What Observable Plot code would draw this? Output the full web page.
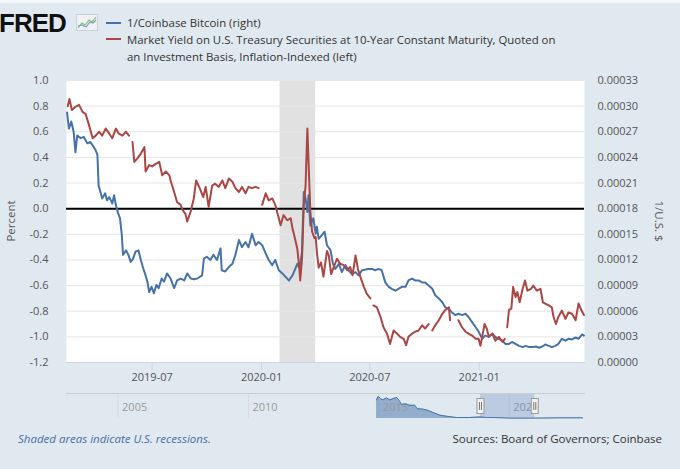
<!DOCTYPE html>
<html><head><meta charset="utf-8">
<script src="https://cdn.jsdelivr.net/npm/d3@7"></script>
<script src="https://cdn.jsdelivr.net/npm/@observablehq/plot@0.6"></script>
<style>
html,body{margin:0;padding:0;background:#e1e9f0;}
#wrap{position:relative;width:680px;height:469px;background:#e1e9f0;overflow:hidden;font-family:"Open Sans",sans-serif;}
.abs{position:absolute;white-space:nowrap;line-height:16px;}
#main,#nav{position:absolute;left:0;}
</style></head><body>
<div id="wrap">
  <div class="abs" style="left:0;top:0;width:680px;height:3px;background:#f4f7fa;"></div>
  <div class="abs" style="left:-1px;top:10px;font:bold 26px 'Liberation Sans',Arial,sans-serif;line-height:26px;color:#111;letter-spacing:-1px;">FRED</div>
  <svg class="abs" style="left:76px;top:14px;" width="22" height="17" aria-label="FRED logo icon">
    <rect x="0.5" y="0.5" width="21" height="16" fill="#eef2f5" stroke="#c9d2da"></rect>
    <polyline points="2,14 6,9 9,11 13,6 16,8 20,3" fill="none" stroke="#8cbf6a" stroke-width="1.2"></polyline>
    <polyline points="2,12 6,11 10,13 14,8 17,9 20,6" fill="none" stroke="#7c9cc8" stroke-width="1.2"></polyline>
  </svg>
  <div class="abs" style="left:106px;top:22px;width:15px;height:2px;background:#4572a7;"></div>
  <div class="abs" style="left:106px;top:38px;width:15px;height:2px;background:#aa4643;"></div>
  <div class="abs" style="left:127px;top:15px;font-size:11.4px;color:#333;">1/Coinbase Bitcoin (right)</div>
  <div class="abs" style="left:127px;top:32px;font-size:11.4px;color:#333;">Market Yield on U.S. Treasury Securities at 10-Year Constant Maturity, Quoted on</div>
  <div class="abs" style="left:127px;top:48.5px;font-size:11.4px;color:#333;">an Investment Basis, Inflation-Indexed (left)</div>
  <div id="main" style="top:63px;"></div>
  <div class="abs" style="left:11px;top:221px;font-size:11.5px;color:#555;line-height:1;transform:translate(-50%,-50%) rotate(-90deg);">Percent</div>
  <div class="abs" style="left:659px;top:221px;font-size:11.5px;color:#555;line-height:1;transform:translate(-50%,-50%) rotate(90deg);">1/U.S. $</div>
  <div id="nav" style="top:386px;"></div>
  <div class="abs" style="left:18px;top:431px;font-size:11.5px;color:#4a6ea8;font-style:italic;">Shaded areas indicate U.S. recessions.</div>
  <div class="abs" style="right:18px;top:431px;font-size:11.5px;color:#333;">Sources: Board of Governors; Coinbase</div>
</div>
<script>
// ---------- data ----------
const leftDomain = [-1.2, 1.0];
const rightDomain = [0, 0.00033];
const leftTicks = [-1.2, -1.0, -0.8, -0.6, -0.4, -0.2, 0.0, 0.2, 0.4, 0.6, 0.8, 1.0];
const rightTicks = [0, 0.00003, 0.00006, 0.00009, 0.00012, 0.00015, 0.00018, 0.00021, 0.00024, 0.00027, 0.00030, 0.00033];
const xDomain = ["2019-02-07", "2021-06-27"];
const xTicks = ["2019-07-01", "2020-01-01", "2020-07-01", "2021-01-01"];
const recessionStart = ["2020-02-01"];
const recessionEnd = ["2020-04-01"];

const redDates = ["2019-02-09","2019-02-12","2019-02-16","2019-02-22","2019-02-28","2019-03-06","2019-03-11","2019-03-17","2019-03-23","2019-03-28","2019-04-03","2019-04-08","2019-04-14","2019-04-20","2019-04-25","2019-05-01","2019-05-06","2019-05-12","2019-05-18","2019-05-23","2019-05-26","2019-05-29","2019-06-01","2019-06-06","2019-06-12","2019-06-18","2019-06-20","2019-06-26","2019-07-01","2019-07-07","2019-07-13","2019-07-18","2019-07-24","2019-07-30","2019-08-01","2019-08-07","2019-08-12","2019-08-18","2019-08-21","2019-08-26","2019-08-29","2019-09-04","2019-09-09","2019-09-13","2019-09-19","2019-09-25","2019-09-29","2019-10-04","2019-10-10","2019-10-15","2019-10-21","2019-10-27","2019-11-01","2019-11-07","2019-11-13","2019-11-18","2019-11-24","2019-11-29","2019-12-05","2019-12-10","2019-12-16","2019-12-22","2019-12-27","2019-12-30","2020-01-02","2020-01-08","2020-01-13","2020-01-19","2020-01-24","2020-01-30","2020-02-02","2020-02-07","2020-02-13","2020-02-19","2020-02-22","2020-02-25","2020-03-01","2020-03-04","2020-03-06","2020-03-09","2020-03-12","2020-03-15","2020-03-18","2020-03-20","2020-03-23","2020-03-26","2020-03-30","2020-04-01","2020-04-03","2020-04-06","2020-04-10","2020-04-14","2020-04-20","2020-04-23","2020-04-27","2020-05-01","2020-05-07","2020-05-12","2020-05-18","2020-05-24","2020-05-29","2020-06-02","2020-06-07","2020-06-11","2020-06-15","2020-06-21","2020-06-26","2020-07-02","2020-07-04","2020-07-07","2020-07-13","2020-07-19","2020-07-24","2020-07-30","2020-08-04","2020-08-10","2020-08-16","2020-08-21","2020-08-27","2020-08-31","2020-09-04","2020-09-10","2020-09-15","2020-09-21","2020-09-27","2020-10-02","2020-10-08","2020-10-11","2020-10-14","2020-10-19","2020-10-25","2020-10-31","2020-11-05","2020-11-11","2020-11-13","2020-11-20","2020-11-27","2020-12-03","2020-12-09","2020-12-14","2020-12-20","2020-12-26","2020-12-31","2021-01-03","2021-01-07","2021-01-10","2021-01-14","2021-01-17","2021-01-23","2021-01-28","2021-02-03","2021-02-09","2021-02-13","2021-02-15","2021-02-17","2021-02-20","2021-02-24","2021-02-27","2021-03-03","2021-03-06","2021-03-10","2021-03-15","2021-03-19","2021-03-23","2021-03-29","2021-04-02","2021-04-08","2021-04-14","2021-04-18","2021-04-22","2021-04-28","2021-05-03","2021-05-06","2021-05-10","2021-05-14","2021-05-20","2021-05-26","2021-05-31","2021-06-06","2021-06-12","2021-06-17","2021-06-22","2021-06-26"];
const redValues = [0.80,0.855,0.77,0.795,0.81,0.755,0.74,0.65,0.55,0.57,0.60,0.57,0.625,0.585,0.55,0.625,0.585,0.57,0.60,0.57,null,0.52,0.365,0.39,0.43,0.48,0.29,0.34,0.33,0.35,0.365,0.26,0.29,0.26,0.22,0.13,0.05,0.03,-0.01,-0.04,-0.10,-0.02,0.08,0.22,0.16,0.09,0.17,0.015,0.18,0.195,0.17,0.22,0.16,0.235,0.21,0.16,0.13,0.17,0.12,0.17,0.16,0.17,0.16,null,0.03,0.12,0.065,0.08,0.03,-0.075,-0.13,-0.05,-0.09,-0.075,-0.155,-0.21,-0.31,-0.44,-0.56,-0.39,0.03,0.18,0.625,0.365,-0.02,-0.18,-0.23,-0.22,-0.34,-0.46,-0.42,-0.53,-0.33,-0.365,-0.51,-0.46,-0.39,-0.43,-0.44,-0.48,-0.455,-0.52,-0.365,-0.47,-0.53,-0.61,-0.665,-0.70,null,-0.755,-0.77,-0.845,-0.925,-0.975,-1.055,-0.95,-0.975,-1.00,-1.015,-1.065,-1.00,-0.975,-0.96,-0.95,-0.91,-0.935,-0.90,null,-0.95,-0.91,-0.87,-0.82,-0.79,-0.77,-0.87,null,-0.87,-0.925,-0.96,-0.975,-0.99,-1.015,-1.015,-1.07,-0.975,-0.90,-0.94,-1.00,-0.975,-1.03,-1.00,-1.04,-1.015,null,-0.925,-0.79,-0.78,-0.61,-0.69,-0.65,-0.73,-0.625,-0.56,-0.64,-0.625,-0.60,-0.64,-0.625,-0.73,-0.74,-0.755,-0.77,-0.845,-0.90,-0.845,-0.795,-0.86,-0.81,-0.82,-0.87,-0.74,-0.795,-0.83];

const blueDates = ["2019-02-08","2019-02-11","2019-02-15","2019-02-19","2019-02-22","2019-02-25","2019-03-03","2019-03-08","2019-03-14","2019-03-19","2019-03-25","2019-03-28","2019-03-31","2019-04-02","2019-04-05","2019-04-08","2019-04-13","2019-04-16","2019-04-20","2019-04-25","2019-04-28","2019-05-01","2019-05-04","2019-05-08","2019-05-11","2019-05-13","2019-05-18","2019-05-22","2019-05-26","2019-05-30","2019-06-03","2019-06-08","2019-06-12","2019-06-16","2019-06-20","2019-06-23","2019-06-26","2019-06-30","2019-07-04","2019-07-08","2019-07-12","2019-07-17","2019-07-21","2019-07-26","2019-08-01","2019-08-07","2019-08-12","2019-08-18","2019-08-24","2019-08-29","2019-09-04","2019-09-09","2019-09-15","2019-09-23","2019-09-26","2019-10-01","2019-10-07","2019-10-12","2019-10-18","2019-10-24","2019-10-26","2019-11-01","2019-11-07","2019-11-13","2019-11-18","2019-11-24","2019-11-29","2019-12-05","2019-12-10","2019-12-16","2019-12-22","2019-12-27","2020-01-02","2020-01-08","2020-01-13","2020-01-19","2020-01-24","2020-01-30","2020-02-05","2020-02-10","2020-02-16","2020-02-22","2020-02-27","2020-03-01","2020-03-05","2020-03-09","2020-03-12","2020-03-15","2020-03-18","2020-03-20","2020-03-23","2020-03-28","2020-04-01","2020-04-03","2020-04-06","2020-04-09","2020-04-16","2020-04-20","2020-04-26","2020-04-30","2020-05-04","2020-05-10","2020-05-15","2020-05-21","2020-05-26","2020-06-01","2020-06-07","2020-06-12","2020-06-18","2020-06-24","2020-06-29","2020-07-05","2020-07-10","2020-07-16","2020-07-21","2020-07-27","2020-08-02","2020-08-07","2020-08-13","2020-08-18","2020-08-24","2020-08-30","2020-09-04","2020-09-10","2020-09-15","2020-09-21","2020-09-27","2020-10-02","2020-10-08","2020-10-14","2020-10-19","2020-10-25","2020-10-31","2020-11-05","2020-11-11","2020-11-16","2020-11-22","2020-11-27","2020-12-03","2020-12-09","2020-12-14","2020-12-20","2020-12-26","2020-12-31","2021-01-06","2021-01-11","2021-01-17","2021-01-23","2021-01-28","2021-02-03","2021-02-09","2021-02-14","2021-02-20","2021-02-25","2021-03-03","2021-03-09","2021-03-15","2021-03-20","2021-03-26","2021-04-01","2021-04-06","2021-04-12","2021-04-17","2021-04-22","2021-04-28","2021-05-03","2021-05-09","2021-05-14","2021-05-20","2021-05-26","2021-05-31","2021-06-06","2021-06-12","2021-06-17","2021-06-23","2021-06-26"];
const blueValues = [0.0002925,0.00027375,0.000282,0.00027,0.000246,0.0002655,0.0002625,0.000264,0.0002565,0.000258,0.000252,0.00024825,0.000243,0.000207,0.0001995,0.000192,0.000198,0.00018975,0.0001935,0.000186,0.00019575,0.0001845,0.00017625,0.00016875,0.00014925,0.000126,0.00013125,0.000126,0.00011775,0.0001215,0.00012975,0.00013125,0.00012,0.00011025,0.000102,0.0000945,0.0000825,0.0000885,0.000081,0.00009075,0.000087,0.00009825,0.0000945,0.00010425,0.00009825,0.000087,0.000096,0.00009825,0.000096,0.00010425,0.00009825,0.0000975,0.00009825,0.000102,0.0001215,0.00012375,0.00012,0.000126,0.00012,0.0001335,0.000108,0.0001065,0.00011175,0.0001155,0.000126,0.00014325,0.000135,0.000141,0.000135,0.00015075,0.00013725,0.000141,0.00013725,0.0001275,0.00012,0.000114,0.00012,0.000108,0.00010425,0.0001005,0.000096,0.000102,0.00011025,0.0001155,0.00011025,0.00012975,0.0001995,0.000192,0.00017625,0.00019575,0.0001605,0.00016875,0.00015075,0.000159,0.00014475,0.000147,0.000153,0.00013725,0.00013125,0.0001155,0.0001095,0.0001155,0.00010575,0.000114,0.000108,0.0001035,0.00010575,0.000102,0.000108,0.00010875,0.0001095,0.0001095,0.000108,0.0001095,0.000108,0.00009375,0.0000885,0.00008625,0.000084,0.00008625,0.0000885,0.0000885,0.000096,0.00009825,0.000096,0.000096,0.00009375,0.00009375,0.00009,0.00008625,0.00007875,0.000075,0.0000705,0.0000645,0.000063,0.0000585,0.0000555,0.000057,0.0000555,0.000057,0.00005325,0.00004725,0.00004125,0.000036,0.00002775,0.0000315,0.00003,0.00003375,0.00003,0.00002775,0.0000255,0.00002175,0.00002175,0.000024,0.00002175,0.0000195,0.000018,0.0000195,0.000018,0.000018,0.00001875,0.00001725,0.00001875,0.000021,0.0000195,0.000018,0.0000195,0.00002175,0.00002775,0.0000255,0.00002775,0.000027,0.00002925,0.00002775,0.000033,0.0000315];

// navigator (full history of 1/Coinbase Bitcoin, 1/U.S. $)
const navDomain = ["2003-01-10", "2022-11-20"];
const navYears = [2005, 2010, 2015, 2020];
const navSelection = ["2018-11-24", "2020-12-24"];
const navYMax = 0.0051;
const navDates = ["2014-11-29","2014-12-22","2015-01-25","2015-03-02","2015-04-18","2015-06-04","2015-07-20","2015-09-06","2015-10-12","2015-11-14","2016-01-23","2016-03-10","2016-05-19","2016-06-21","2016-09-13","2016-11-22","2017-02-01","2017-05-06","2017-08-07","2017-12-24","2018-06-28","2018-11-15","2019-02-17","2019-05-20","2020-01-10","2020-12-01","2021-12-10","2022-10-24"];
const navValues = [0.0038,0.0045,0.00405,0.0038,0.0042,0.0038,0.00405,0.0043,0.0037,0.0029,0.0029,0.0027,0.0027,0.002,0.0019,0.00165,0.0012,0.00068,0.00045,0.0002,0.0002,0.00032,0.0002,0.0002,0.00007,0.00007,0.00013,0.00013];

// ---------- helpers ----------
const parse = d3.utcParse("%Y-%m-%d");
const toLeft = r => leftDomain[0] + (r - rightDomain[0]) / (rightDomain[1] - rightDomain[0]) * (leftDomain[1] - leftDomain[0]);
const fromLeft = v => rightDomain[0] + (v - leftDomain[0]) / (leftDomain[1] - leftDomain[0]) * (rightDomain[1] - rightDomain[0]);

const red = redDates.map((d, i) => ({date: parse(d), value: redValues[i]}));
const blue = blueDates.map((d, i) => ({date: parse(d), value: blueValues[i]}));
const recessions = recessionStart.map((d, i) => ({start: parse(d), end: parse(recessionEnd[i])}));
const nav = navDates.map((d, i) => ({date: parse(d), value: navValues[i]}));
const navYearDates = navYears.map(y => new Date(Date.UTC(y, 0, 1)));
const sel = [{start: parse(navSelection[0]), end: parse(navSelection[1])}];
const selEdges = navSelection.map(parse);

const font = '"Open Sans", sans-serif';

const main = Plot.plot({
  width: 680, height: 327,
  marginTop: 17, marginBottom: 28, marginLeft: 66, marginRight: 96,
  style: {background: "transparent", fontFamily: font, fontSize: "11px", color: "#555", overflow: "visible"},
  x: {type: "utc", domain: xDomain.map(parse)},
  y: {domain: leftDomain},
  marks: [
    Plot.frame({fill: "#ffffff", stroke: "none"}),
    Plot.rect(recessions, {x1: "start", x2: "end", y1: leftDomain[0], y2: leftDomain[1], fill: "#e1e1e1"}),
    Plot.gridY(leftTicks, {stroke: "#e6e6e6", strokeOpacity: 1}),
    Plot.ruleY([0], {stroke: "#000", strokeWidth: 2}),
    Plot.line(blue, {x: "date", y: d => toLeft(d.value), stroke: "#4572a7", strokeWidth: 2}),
    Plot.line(red, {x: "date", y: "value", stroke: "#aa4643", strokeWidth: 2}),
    Plot.frame({anchor: "bottom", stroke: "#ccd6eb"}),
    Plot.axisY(leftTicks, {anchor: "left", tickSize: 0, tickPadding: 18, tickFormat: d => d.toFixed(1), label: null, fill: "#555"}),
    Plot.axisY(rightTicks.map(toLeft), {anchor: "right", tickSize: 0, tickPadding: 13, tickFormat: d => fromLeft(d).toFixed(5), label: null, fill: "#555"}),
    Plot.axisX(xTicks.map(parse), {anchor: "bottom", tickSize: 8, tickPadding: 3, tickFormat: d3.utcFormat("%Y-%m"), stroke: "#ccd6eb", fill: "#555", label: null})
  ]
});
document.getElementById("main").appendChild(main);

const navPlot = Plot.plot({
  width: 680, height: 40,
  marginTop: 7, marginBottom: 8, marginLeft: 66, marginRight: 96,
  style: {background: "transparent", fontFamily: font, fontSize: "11px", color: "#999", overflow: "visible"},
  x: {type: "utc", domain: navDomain.map(parse), axis: null},
  y: {domain: [0, navYMax], axis: null},
  marks: [
    Plot.ruleX(navYearDates, {stroke: "#d3dce6"}),
    Plot.areaY(nav, {x: "date", y: "value", fill: "#4572a7", fillOpacity: 0.5, curve: "linear"}),
    Plot.lineY(nav, {x: "date", y: "value", stroke: "#4572a7", strokeWidth: 1}),
    Plot.text(navYearDates, {x: d => d, text: d => String(d.getUTCFullYear()), frameAnchor: "bottom", dy: -8, dx: 4, textAnchor: "start", fill: "#999", fontSize: 11}),
    Plot.rect(sel, {x1: "start", x2: "end", y1: 0, y2: navYMax, fill: "#6685c2", fillOpacity: 0.3}),
    Plot.frame({anchor: "top", stroke: "#cccccc"}),
    Plot.ruleX(selEdges, {stroke: "#999", strokeWidth: 8, insetTop: 5, insetBottom: 4}),
    Plot.ruleX(selEdges, {stroke: "#f2f2f2", strokeWidth: 6, insetTop: 6, insetBottom: 5}),
    Plot.ruleX(selEdges, {stroke: "#777", strokeWidth: 1, dx: -1, insetTop: 9, insetBottom: 8}),
    Plot.ruleX(selEdges, {stroke: "#777", strokeWidth: 1, dx: 1, insetTop: 9, insetBottom: 8})
  ]
});
document.getElementById("nav").appendChild(navPlot);
</script>
</body></html>
